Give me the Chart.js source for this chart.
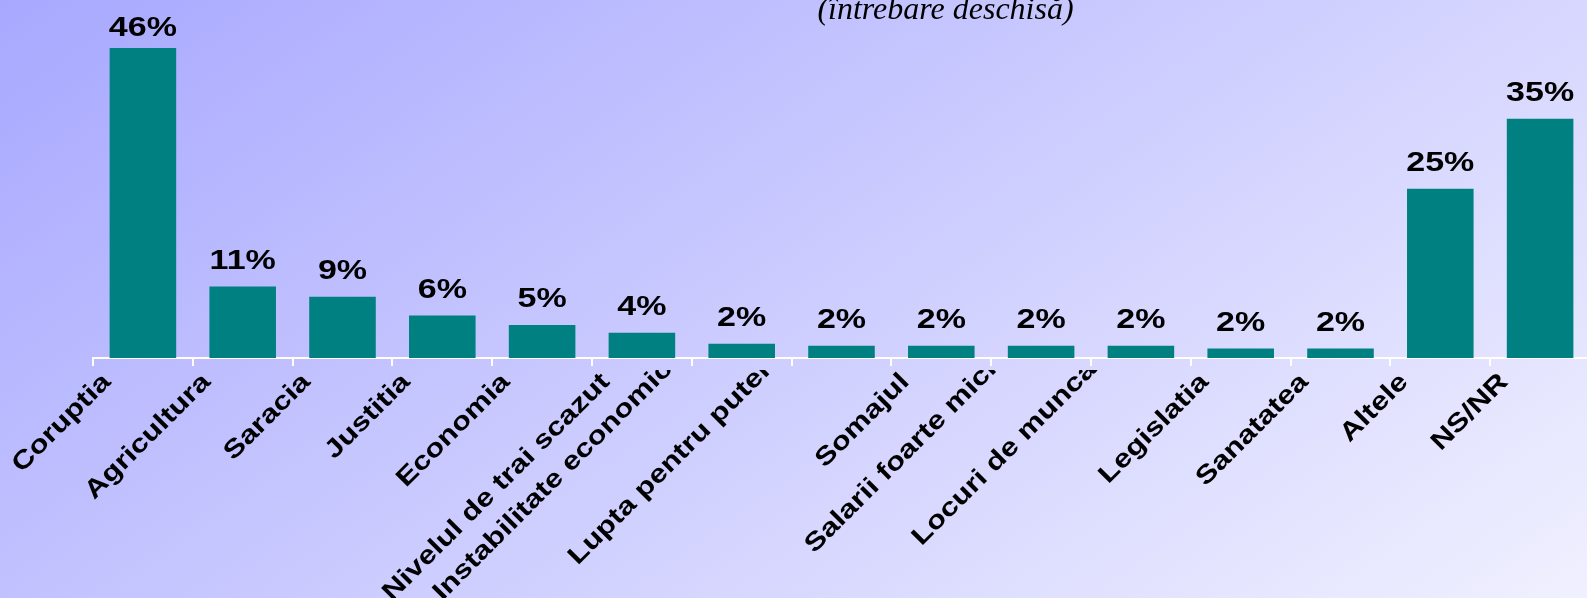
<!DOCTYPE html>
<html>
<head>
<meta charset="utf-8">
<script src="https://cdn.jsdelivr.net/npm/chart.js@4/dist/chart.umd.min.js"></script>
<style>
  html, body { margin: 0; padding: 0; overflow: hidden; background: #c8c8ff; }
  #wrap { width: 1587px; height: 598px; overflow: hidden; }
  canvas { display: block; }
</style>
</head>
<body>
<div id="wrap"><canvas id="chart" width="1590" height="598"></canvas></div>
<script>
// Data
const categories = [
  'Coruptia', 'Agricultura', 'Saracia', 'Justitia', 'Economia',
  'Nivelul de trai scazut', 'Instabilitate economica', 'Lupta pentru putere',
  'Somajul', 'Salarii foarte mici', 'Locuri de munca', 'Legislatia',
  'Sanatatea', 'Altele', 'NS/NR'
];
const values = [46, 10.6, 9.1, 6.3, 4.9, 3.75, 2.1, 1.8, 1.8, 1.8, 1.8, 1.4, 1.4, 25.1, 35.5];
const valueLabels = ['46%', '11%', '9%', '6%', '5%', '4%', '2%', '2%', '2%', '2%', '2%', '2%', '2%', '25%', '35%'];
const subtitle = '(întrebare deschisă)';

// some labels sit one or two steps higher/left in the original
const labelNudge = [0, 0, 0, 0, 0, 0, 2, 2, 0, 1, 1, 0, 0, 0, 0];

const BAR_COLOR = '#008080';

// diagonal lavender background
const backgroundPlugin = {
  id: 'bg',
  beforeDraw(chart) {
    const ctx = chart.ctx;
    const g = ctx.createLinearGradient(0, 0, 803, 1146);
    g.addColorStop(0, 'rgb(168,168,255)');
    g.addColorStop(1, 'rgb(240,240,255)');
    ctx.save();
    ctx.fillStyle = g;
    ctx.fillRect(0, 0, chart.width, chart.height);
    ctx.restore();
  }
};

// percentages above the bars
const valueLabelPlugin = {
  id: 'valueLabels',
  afterDatasetsDraw(chart) {
    const ctx = chart.ctx;
    const meta = chart.getDatasetMeta(0);
    ctx.save();
    ctx.fillStyle = '#000';
    ctx.font = 'bold 27px "Liberation Sans", Arial, sans-serif';
    ctx.textAlign = 'center';
    ctx.textBaseline = 'alphabetic';
    meta.data.forEach((bar, i) => {
      const y = Math.max(bar.y - 18, 36);
      ctx.save();
      ctx.translate(bar.x, y);
      ctx.scale(1.26, 1);
      ctx.fillText(valueLabels[i], 0, 0);
      ctx.restore();
    });
    ctx.restore();
  }
};

// rotated category labels (clipped just under the axis) and the subtitle
const labelPlugin = {
  id: 'catLabels',
  afterDraw(chart) {
    const ctx = chart.ctx;
    const xScale = chart.scales.x;
    ctx.save();
    ctx.beginPath();
    ctx.rect(0, 370, chart.width, chart.height - 370);
    ctx.clip();
    ctx.fillStyle = '#000';
    ctx.font = 'bold 25.5px "Liberation Sans", Arial, sans-serif';
    ctx.textAlign = 'right';
    ctx.textBaseline = 'alphabetic';
    categories.forEach((c, i) => {
      const px = xScale.getPixelForValue(i);
      const n = labelNudge[i] * 12.5;
      ctx.save();
      ctx.translate(px - 31 - n, 383 - n);
      ctx.rotate(-Math.PI / 4);
      ctx.scale(1.22, 1);
      ctx.fillText(c, 0, 0);
      ctx.restore();
    });
    ctx.restore();

    ctx.save();
    ctx.fillStyle = '#000';
    ctx.font = 'italic 32px "Liberation Serif", "Times New Roman", serif';
    ctx.textAlign = 'center';
    ctx.textBaseline = 'alphabetic';
    ctx.fillText(subtitle, 945.5, 18.5);
    ctx.restore();
  }
};

new Chart(document.getElementById('chart'), {
  type: 'bar',
  data: {
    labels: categories,
    datasets: [{
      data: values,
      backgroundColor: BAR_COLOR,
      borderWidth: 0,
      barPercentage: 0.667,
      categoryPercentage: 1
    }]
  },
  options: {
    responsive: false,
    animation: false,
    layout: { padding: { left: 93, right: 0, top: 48, bottom: 0 } },
    plugins: {
      legend: { display: false },
      tooltip: { enabled: false }
    },
    scales: {
      x: {
        offset: true,
        grid: {
          offset: true,
          drawOnChartArea: false,
          drawTicks: true,
          tickLength: 8,
          color: '#ffffff',
          lineWidth: 2
        },
        border: { display: true, color: '#ffffff', width: 2 },
        ticks: { display: false },
        afterFit(scale) { scale.height = 240; }
      },
      y: { display: false, min: 0, max: 46 }
    }
  },
  plugins: [backgroundPlugin, valueLabelPlugin, labelPlugin]
});
</script>
</body>
</html>
